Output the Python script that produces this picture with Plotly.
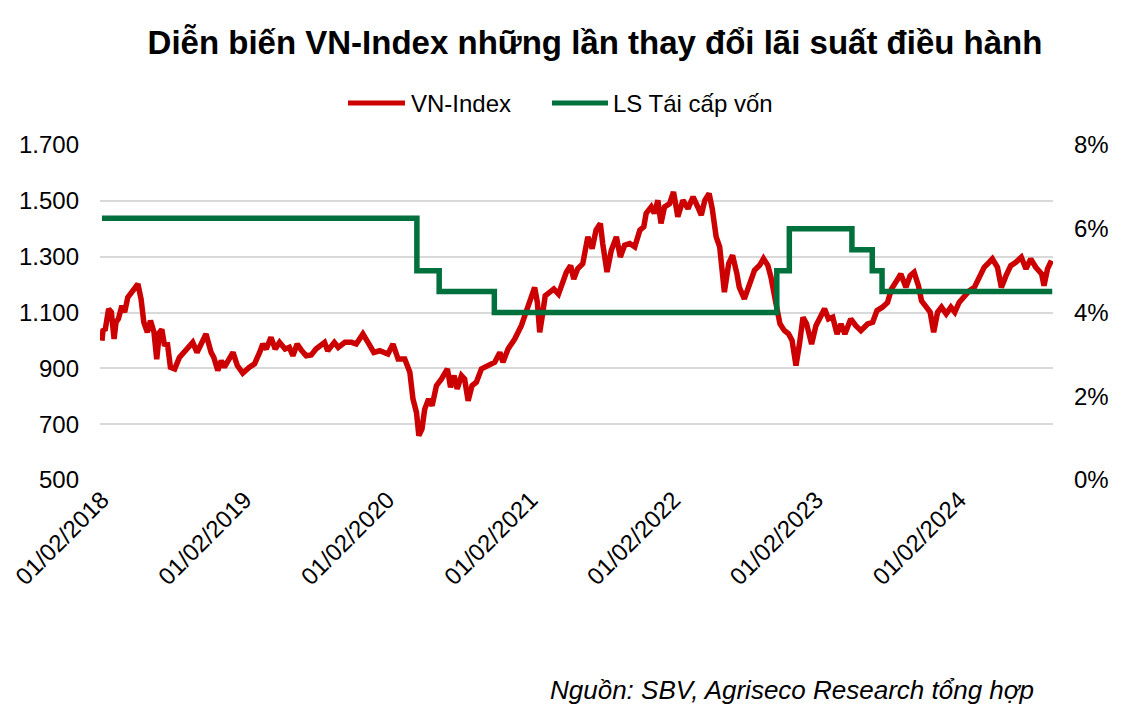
import plotly.graph_objects as go

# VN-Index
vn_dates = [
    "2018-01-02", "2018-01-05", "2018-01-10", "2018-01-19", "2018-01-26", "2018-02-02",
    "2018-02-07", "2018-02-13", "2018-02-22", "2018-03-01", "2018-03-09", "2018-03-18",
    "2018-03-26", "2018-04-04", "2018-04-12", "2018-04-19", "2018-04-28", "2018-05-06",
    "2018-05-15", "2018-05-22", "2018-05-29", "2018-06-04", "2018-06-11", "2018-06-18",
    "2018-06-26", "2018-07-07", "2018-07-19", "2018-08-05", "2018-08-22", "2018-09-02",
    "2018-09-13", "2018-09-25", "2018-10-08", "2018-10-15", "2018-10-25", "2018-11-03",
    "2018-11-11", "2018-12-03", "2018-12-14", "2018-12-28", "2019-01-14", "2019-01-27",
    "2019-02-09", "2019-02-17", "2019-02-26", "2019-03-10", "2019-03-21", "2019-04-01",
    "2019-04-15", "2019-04-26", "2019-05-05", "2019-05-16", "2019-05-28", "2019-06-08",
    "2019-06-21", "2019-07-03", "2019-07-25", "2019-08-02", "2019-08-19", "2019-08-29",
    "2019-09-15", "2019-10-02", "2019-10-14", "2019-10-31", "2019-11-13", "2019-11-28",
    "2019-12-13", "2019-12-26", "2020-01-03", "2020-01-16", "2020-01-29", "2020-02-15",
    "2020-02-28", "2020-03-07", "2020-03-16", "2020-03-22", "2020-03-30", "2020-04-06",
    "2020-04-16", "2020-04-25", "2020-05-06", "2020-05-19", "2020-06-03", "2020-06-11",
    "2020-06-20", "2020-06-28", "2020-07-09", "2020-07-17", "2020-07-26", "2020-08-05",
    "2020-08-16", "2020-08-29", "2020-09-15", "2020-10-02", "2020-10-15", "2020-10-23",
    "2020-11-05", "2020-11-22", "2020-12-09", "2020-12-22", "2021-01-03", "2021-01-12",
    "2021-01-19", "2021-01-25", "2021-02-02", "2021-02-08", "2021-02-19", "2021-03-02",
    "2021-03-14", "2021-03-25", "2021-04-03", "2021-04-14", "2021-04-22", "2021-05-02",
    "2021-05-15", "2021-05-28", "2021-06-08", "2021-06-18", "2021-06-29", "2021-07-05",
    "2021-07-16", "2021-07-27", "2021-08-09", "2021-08-19", "2021-08-30", "2021-09-12",
    "2021-09-25", "2021-10-08", "2021-10-18", "2021-10-24", "2021-11-06", "2021-11-14",
    "2021-11-23", "2021-12-01", "2021-12-10", "2021-12-23", "2022-01-02", "2022-01-13",
    "2022-01-26", "2022-02-08", "2022-02-21", "2022-03-05", "2022-03-14", "2022-03-23",
    "2022-04-03", "2022-04-11", "2022-04-21", "2022-04-30", "2022-05-12", "2022-05-23",
    "2022-06-02", "2022-06-13", "2022-06-19", "2022-07-02", "2022-07-15", "2022-07-28",
    "2022-08-10", "2022-08-20", "2022-08-31", "2022-09-08", "2022-09-21", "2022-10-01",
    "2022-10-12", "2022-10-23", "2022-11-01", "2022-11-11", "2022-11-20", "2022-11-29",
    "2022-12-08", "2022-12-11", "2022-12-21", "2023-01-01", "2023-01-14", "2023-01-23",
    "2023-02-02", "2023-02-13", "2023-02-24", "2023-03-06", "2023-03-16", "2023-03-31",
    "2023-04-13", "2023-04-26", "2023-05-13", "2023-05-26", "2023-06-06", "2023-06-20",
    "2023-07-03", "2023-07-13", "2023-07-24", "2023-08-06", "2023-08-19", "2023-08-30",
    "2023-09-09", "2023-09-20", "2023-09-28", "2023-10-09", "2023-10-20", "2023-10-29",
    "2023-11-08", "2023-11-18", "2023-11-30", "2023-12-12", "2023-12-22", "2024-01-02",
    "2024-01-15", "2024-01-28", "2024-02-10", "2024-02-20", "2024-03-06", "2024-03-19",
    "2024-03-27", "2024-04-09", "2024-04-19", "2024-05-01", "2024-05-13", "2024-05-26",
    "2024-06-09", "2024-06-21", "2024-07-03", "2024-07-16", "2024-07-31", "2024-08-06",
    "2024-08-15", "2024-08-25",
]
vn_index = [
    999, 1041, 1035, 1113, 1101, 1005,
    1065, 1077, 1124, 1101, 1154, 1172,
    1190, 1202, 1148, 1065, 1029, 1071,
    1029, 933, 1029, 1039, 981, 993,
    904, 898, 939, 969, 993, 957,
    993, 1023, 957, 939, 892, 927,
    904, 957, 910, 883, 904, 916,
    957, 987, 969, 1011, 969, 993,
    969, 975, 945, 987, 963, 945,
    948, 969, 993, 963, 993, 975,
    993, 993, 987, 1023, 993, 957,
    963, 957, 951, 987, 933, 933,
    886, 790, 742, 659, 683, 754,
    790, 766, 838, 862, 898, 832,
    874, 826, 874, 862, 784, 838,
    850, 898, 910, 922, 957, 922,
    969, 1005, 1053, 1101, 1148, 1190,
    1136, 1029, 1101, 1160, 1172, 1184,
    1166, 1208, 1244, 1268, 1220, 1257,
    1275, 1371, 1329, 1395, 1419, 1347,
    1245, 1323, 1371, 1299, 1341, 1347,
    1335, 1395, 1407, 1455, 1478, 1455,
    1502, 1419, 1478, 1490, 1532, 1443,
    1502, 1472, 1514, 1478, 1449, 1502,
    1526, 1472, 1371, 1335, 1173, 1275,
    1305, 1239, 1191, 1149, 1203, 1251,
    1269, 1293, 1269, 1227, 1131, 1060,
    1036, 1024, 1000, 910, 988, 1083,
    1060, 1041, 987, 1053, 1089, 1113,
    1077, 1083, 1023, 1059, 1023, 1077,
    1053, 1035, 1059, 1065, 1107, 1119,
    1136, 1184, 1208, 1238, 1190, 1232,
    1244, 1196, 1142, 1119, 1101, 1029,
    1101, 1119, 1095, 1119, 1101, 1136,
    1160, 1178, 1190, 1220, 1262, 1280,
    1292, 1262, 1190, 1232, 1268, 1280,
    1298, 1256, 1292, 1262, 1238, 1196,
    1256, 1286,
]

# Refinancing rate (%)
rate_dates = ["2018-01-02", "2020-03-17", "2020-05-13", "2020-10-01", "2022-09-23",
              "2022-10-25", "2023-04-03", "2023-05-25", "2023-06-19", "2024-08-27"]
rate_values = [6.25, 5.0, 4.5, 4.0, 5.0, 6.0, 5.5, 5.0, 4.5, 4.5]

x_tickvals = ["2018-01-02", "2019-01-02", "2020-01-02", "2021-01-02",
              "2022-01-02", "2023-01-02", "2024-01-02"]
x_ticktext = ["01/02/2018", "01/02/2019", "01/02/2020", "01/02/2021",
              "01/02/2022", "01/02/2023", "01/02/2024"]
left_ticks = [500, 700, 900, 1100, 1300, 1500, 1700]
right_ticks = [0, 2, 4, 6, 8]
right_ticktext = ["0%", "2%", "4%", "6%", "8%"]
series_names = ["VN-Index", "LS Tái cấp vốn"]

RED = "#cc0000"
GREEN = "#00703c"
FONT = "Liberation Sans, Arial, sans-serif"

# plot area in pixels (for converting legend/annotation placement to paper units)
L, R, T, B = 100, 1053, 145, 480
W, H = R - L, B - T


def px(xp):
    return (xp - L) / W


def py(yp):
    return (B - yp) / H


fig = go.Figure()
fig.add_trace(go.Scatter(x=vn_dates, y=vn_index, name=series_names[0], mode="lines",
                         line=dict(color=RED, width=5.5), yaxis="y", showlegend=False))
fig.add_trace(go.Scatter(x=rate_dates, y=rate_values, name=series_names[1], mode="lines",
                         line=dict(color=GREEN, width=5.5, shape="hv"), yaxis="y2",
                         showlegend=False))

# custom legend (longer line samples as in the reference)
legend_y = py(103)
shapes = [
    dict(type="line", xref="paper", yref="paper", x0=px(348), x1=px(405),
         y0=legend_y, y1=legend_y, line=dict(color=RED, width=5)),
    dict(type="line", xref="paper", yref="paper", x0=px(552), x1=px(608),
         y0=legend_y, y1=legend_y, line=dict(color=GREEN, width=5)),
]
annotations = [
    dict(text=series_names[0], xref="paper", yref="paper", x=px(409), xanchor="left",
         y=legend_y, yanchor="middle", showarrow=False, font=dict(family=FONT, size=24)),
    dict(text=series_names[1], xref="paper", yref="paper", x=px(611), xanchor="left",
         y=legend_y, yanchor="middle", showarrow=False, font=dict(family=FONT, size=24)),
    dict(text="<i>Nguồn: SBV, Agriseco Research tổng hợp</i>",
         xref="paper", yref="paper", x=px(1036), xanchor="right",
         y=py(690), yanchor="middle", showarrow=False,
         font=dict(family=FONT, size=26, color="black")),
]

fig.update_layout(
    width=1128, height=716,
    margin=dict(l=L, r=1128 - R, t=T, b=716 - B, autoexpand=False),
    paper_bgcolor="white", plot_bgcolor="white",
    font=dict(family=FONT, size=24, color="black"),
    separators=",.",
    showlegend=False,
    title=dict(text="<b>Diễn biến VN-Index những lần thay đổi lãi suất điều hành</b>",
               x=595 / 1128, xref="container", xanchor="center",
               y=1 - 42 / 716, yref="container", yanchor="middle",
               font=dict(family=FONT, size=33, color="black")),
    xaxis=dict(type="date", range=["2017-12-28", "2024-08-29"],
               tickvals=x_tickvals, ticktext=x_ticktext, tickangle=-45,
               showgrid=False, zeroline=False, showline=False, automargin=False,
               tickfont=dict(size=24), ticks=""),
    yaxis=dict(range=[500, 1700], tickvals=left_ticks, tickformat=",d",
               showgrid=True, gridcolor="#d9d9d9", gridwidth=1.5,
               zeroline=False, showline=False, ticklabelstandoff=20, automargin=False,
               tickfont=dict(size=24)),
    yaxis2=dict(range=[0, 8], tickvals=right_ticks, ticktext=right_ticktext,
                overlaying="y", side="right", showgrid=False, zeroline=False,
                showline=False, ticklabelstandoff=20, automargin=False,
                tickfont=dict(size=24)),
    shapes=shapes,
    annotations=annotations,
)

fig.write_html("out.html", config={"displayModeBar": False},
               post_script="document.body.style.margin='0px';")
